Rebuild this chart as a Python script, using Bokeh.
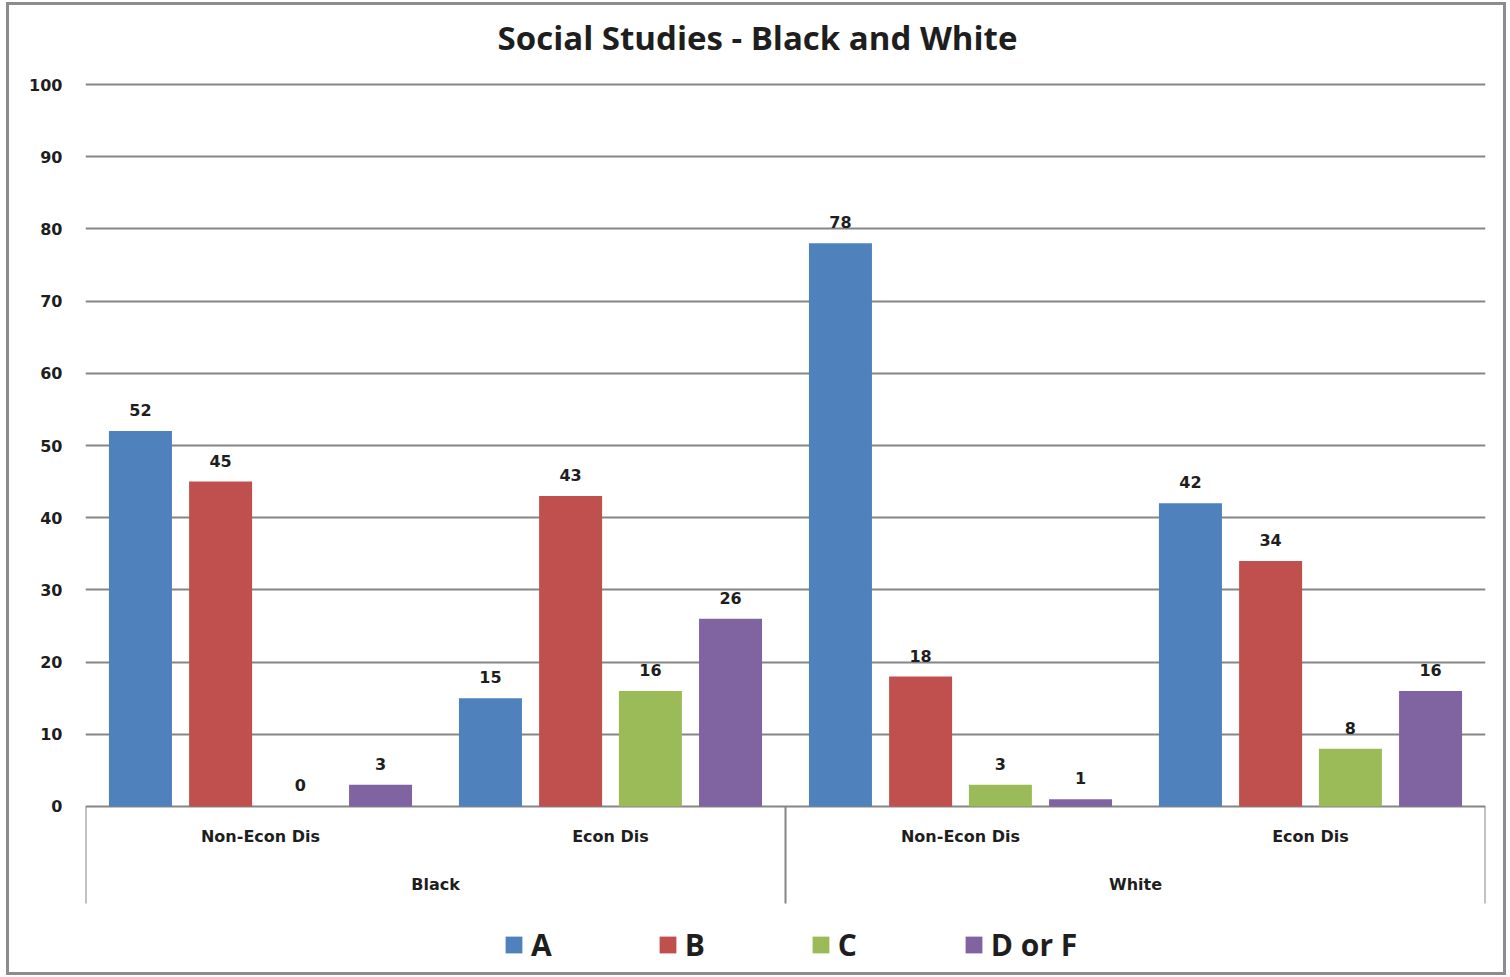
from bokeh.plotting import figure
from bokeh.models import ColumnDataSource, FactorRange, Range1d, FixedTicker, Legend, LegendItem, InlineStyleSheet
from bokeh.transform import dodge
from bokeh.core.properties import value
from bokeh.embed import file_html
from bokeh.resources import INLINE

# ---- data ----
races = ["Black", "White"]
econ = ["Non-Econ Dis", "Econ Dis"]
grades = ["A", "B", "C", "D or F"]
grade_A = [52, 15, 78, 42]
grade_B = [45, 43, 18, 34]
grade_C = [0, 16, 3, 8]
grade_DF = [3, 26, 1, 16]
y_ticks = list(range(0, 101, 10))
title_text = "Social Studies - Black and White"

# ---- styles ----
colors = ["#4F81BD", "#C0504D", "#9BBB59", "#8064A2"]
offsets = [-0.343, -0.114, 0.114, 0.343]
bar_w = 0.18
FONT = "Open Sans"
SMALL = "DejaVu Sans"
TXT = "#1e1e1e"
GRID = "#858585"

factors = [(r, e) for r in races for e in econ]
keys = ["A", "B", "C", "DF"]
series = [grade_A, grade_B, grade_C, grade_DF]
data = dict(x=factors)
for k, s in zip(keys, series):
    data[k] = s
    data[k + "_lbl"] = [str(v) for v in s]
src = ColumnDataSource(data)

x_range = FactorRange(*factors, factor_padding=0, group_padding=0, range_padding=0)
frame_bottom = -22.3
frame_top = 110.25
sep_bottom = -13.45
title_y = 106.5
p = figure(width=1510, height=977, x_range=x_range, y_range=Range1d(frame_bottom, frame_top),
           output_backend="svg", toolbar_location=None, title=None,
           min_border_left=85, min_border_right=25, min_border_top=10, min_border_bottom=10)
p.outline_line_color = None
p.background_fill_color = "white"
p.border_fill_color = "white"

frame_css = InlineStyleSheet(css="""
:host { position: relative; }
:host::after {
  content: ""; position: absolute; left: 6px; top: 2px; width: 1500px; height: 973px;
  border: 3px solid #8c8c8c; box-sizing: border-box; pointer-events: none; z-index: 100;
}
""")
p.stylesheets = [frame_css]

p.xaxis.visible = False
p.xgrid.visible = False
p.yaxis.ticker = FixedTicker(ticks=y_ticks)
p.ygrid.ticker = FixedTicker(ticks=y_ticks)
p.ygrid.grid_line_color = GRID
p.ygrid.grid_line_width = 2
p.yaxis.axis_line_color = None
p.yaxis.major_tick_line_color = None
p.yaxis.minor_tick_line_color = None
p.yaxis.major_label_standoff = 17
p.yaxis.major_label_text_font = SMALL
p.yaxis.major_label_text_font_style = "bold"
p.yaxis.major_label_text_font_size = "16px"
p.yaxis.major_label_text_color = TXT

# chart title (centred on the whole chart area)
p.text(x=[len(econ)], y=[title_y], text=[title_text], x_offset=-28,
       text_align="center", text_baseline="middle",
       text_font=value(FONT), text_font_style="bold", text_font_size="33px", text_color=TXT)

items = []
for k, g, c, off in zip(keys, grades, colors, offsets):
    r = p.vbar(x=dodge("x", off, range=p.x_range), top=k, width=bar_w, source=src,
               fill_color=c, line_color=None)
    items.append(LegendItem(label=g, renderers=[r]))
    p.text(x=dodge("x", off, range=p.x_range), y=k, text=k + "_lbl", source=src,
           text_align="center", text_baseline="middle", y_offset=-21,
           text_font=value(SMALL), text_font_style="bold", text_font_size="16px", text_color=TXT)

# separators below the axis
edges = [0, len(econ), len(factors)]
p.segment(x0=edges, x1=edges, y0=[0] * 3, y1=[sep_bottom] * 3, line_color=GRID, line_width=2)

# category labels
p.text(x=factors, y=[-4.15] * len(factors), text=[e for _, e in factors],
       text_align="center", text_baseline="middle",
       text_font=value(SMALL), text_font_style="bold", text_font_size="16px", text_color=TXT)
p.text(x=races, y=[-10.8] * len(races), text=races,
       text_align="center", text_baseline="middle",
       text_font=value(SMALL), text_font_style="bold", text_font_size="16px", text_color=TXT)

legend = Legend(items=items, orientation="horizontal", location=(418, 2),
                spacing=105, glyph_width=21, glyph_height=21, label_standoff=7,
                padding=0, margin=0, border_line_color=None, background_fill_alpha=0,
                label_text_font=FONT, label_text_font_style="bold",
                label_text_font_size="30px", label_text_color=TXT)
p.add_layout(legend)

open("out.html", "w").write(file_html(p, INLINE))
